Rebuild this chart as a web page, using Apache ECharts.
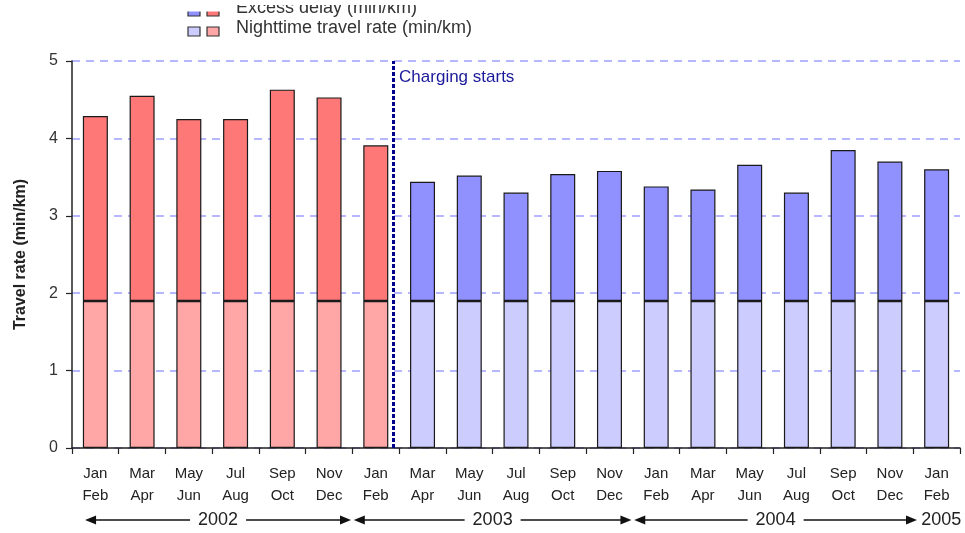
<!DOCTYPE html>
<html>
<head>
  <meta charset="utf-8">
  <script src="https://cdn.jsdelivr.net/npm/echarts@6/dist/echarts.min.js"></script>
</head>
<body style="margin: 0; background: #fff">
  <div id="container" style="width: 965px; height: 533px"></div>
  <script type="text/javascript">
    var categories = [
        'Jan\nFeb', 'Mar\nApr', 'May\nJun', 'Jul\nAug', 'Sep\nOct', 'Nov\nDec',
        'Jan\nFeb', 'Mar\nApr', 'May\nJun', 'Jul\nAug', 'Sep\nOct', 'Nov\nDec',
        'Jan\nFeb', 'Mar\nApr', 'May\nJun', 'Jul\nAug', 'Sep\nOct', 'Nov\nDec',
        'Jan\nFeb'
    ];
    var nightRate = [1.9, 1.9, 1.9, 1.9, 1.9, 1.9, 1.9, 1.9, 1.9, 1.9, 1.9, 1.9, 1.9, 1.9, 1.9, 1.9, 1.9, 1.9, 1.9];
    var excessDelay = [2.39, 2.65, 2.35, 2.35, 2.73, 2.63, 2.01, 1.54, 1.62, 1.40, 1.64, 1.68, 1.48, 1.44, 1.76, 1.40, 1.95, 1.80, 1.70];
    var chargingStartsAt = 6.87;   // position on the category scale
    var beforeCount = 7;           // bars drawn red (before charging)
    var years = ['2002', '2003', '2004', '2005'];
    var yearFrom = [0.28, 6.03, 12.03, 18.6];
    var yearTo = [5.97, 11.97, 18.08, 18.6];

    var FONT = '"Liberation Sans", Arial, sans-serif';
    var myChart = echarts.init(document.getElementById('container'));

    function barColor(before, after)
    {
        return function(p) { return p.dataIndex < beforeCount ? before : after; };
    }

    var option =
    {
        animation: false,
        grid: { left: 72, right: 5, top: 61, bottom: 85, outerBoundsMode: 'none' },
        xAxis:
        [
            {
                type: 'category',
                data: categories,
                axisLine: { lineStyle: { color: '#222', width: 1.5 } },
                axisTick: { show: true, length: 6, lineStyle: { color: '#222', width: 1.2 } },
                axisLabel: { color: '#222', fontSize: 15, lineHeight: 22, margin: 15, fontFamily: FONT, interval: 0 }
            },
            { type: 'value', min: 0, max: 19, show: false }
        ],
        yAxis:
        {
            type: 'value',
            min: 0, max: 5, interval: 1,
            name: 'Travel rate (min/km)',
            nameLocation: 'middle',
            nameGap: 43,
            nameTextStyle: { color: '#222', fontSize: 16, fontWeight: 'bold', fontFamily: FONT },
            axisLine: { show: true, lineStyle: { color: '#222', width: 1.5 } },
            axisTick: { show: true, length: 6, lineStyle: { color: '#222', width: 1.2 } },
            axisLabel: { color: '#333', fontSize: 16, margin: 14, fontFamily: FONT },
            splitLine: { lineStyle: { color: '#a0a0ff', width: 1.5, type: [8, 6] } }
        },
        series:
        [
            {
                name: 'Nighttime travel rate (min/km)',
                type: 'bar',
                stack: 'rate',
                barWidth: 25,
                data: nightRate,
                itemStyle: { color: barColor('#ffa6a6', '#ccccff'), borderColor: '#1a1a1a', borderWidth: 1.2 }
            },
            {
                name: 'Excess delay (min/km)',
                type: 'bar',
                stack: 'rate',
                barWidth: 25,
                data: excessDelay,
                itemStyle: { color: barColor('#ff7878', '#9090ff'), borderColor: '#1a1a1a', borderWidth: 1.2 }
            },
            {
                type: 'scatter',
                xAxisIndex: 1,
                data: [],
                markLine:
                {
                    silent: true,
                    symbol: 'none',
                    label: { show: false },
                    lineStyle: { color: '#00008c', width: 3, type: [4, 2] },
                    data: [{ xAxis: chargingStartsAt }]
                }
            }
        ]
    };
    myChart.setOption(option);

    function px(v) { return myChart.convertToPixel({ xAxisIndex: 1 }, v); }
    function py(v) { return myChart.convertToPixel({ yAxisIndex: 0 }, v); }

    var g = [];
    // legend (two swatches per row, top row cut off by the frame)
    var legendRows = [
        { text: 'Excess delay (min/km)', y: 7, colors: ['#9090ff', '#ff7878'] },
        { text: 'Nighttime travel rate (min/km)', y: 27, colors: ['#ccccff', '#ffa6a6'] }
    ];
    legendRows.forEach(function(r)
    {
        g.push({ type: 'rect', shape: { x: 188, y: r.y, width: 12, height: 9 },
                 style: { fill: r.colors[0], stroke: '#333', lineWidth: 1.2 } });
        g.push({ type: 'rect', shape: { x: 207, y: r.y, width: 12, height: 9 },
                 style: { fill: r.colors[1], stroke: '#333', lineWidth: 1.2 } });
        g.push({ type: 'text', x: 236, y: r.y + 1,
                 style: { text: r.text, fill: '#333', font: '18px ' + FONT, verticalAlign: 'middle' } });
    });
    // the source picture is cropped through the first legend row
    g.push({ type: 'rect', z: 100, shape: { x: 180, y: 0, width: 45, height: 11.5 }, style: { fill: '#fff' } });
    g.push({ type: 'rect', z: 100, shape: { x: 230, y: 0, width: 260, height: 5 }, style: { fill: '#fff' } });

    // charging label
    g.push({ type: 'text', x: px(chargingStartsAt) + 6, y: py(5) + 16,
             style: { text: 'Charging starts', fill: '#1a1a9a', font: '17px ' + FONT, verticalAlign: 'middle' } });

    // year arrows under the axis
    var yy = 520;
    for (var i = 0; i < years.length; i++)
    {
        var a = px(yearFrom[i]), b = px(yearTo[i]), c = (a + b) / 2;
        g.push({ type: 'text', x: c, y: yy,
                 style: { text: years[i], fill: '#222', font: '18px ' + FONT, align: 'center', verticalAlign: 'middle' } });
        if (b - a < 1) continue;
        g.push({ type: 'line', shape: { x1: a + 6, y1: yy, x2: c - 28, y2: yy }, style: { stroke: '#111', lineWidth: 1.5 } });
        g.push({ type: 'line', shape: { x1: c + 28, y1: yy, x2: b - 6, y2: yy }, style: { stroke: '#111', lineWidth: 1.5 } });
        g.push({ type: 'polygon', shape: { points: [[a, yy], [a + 11, yy - 4.5], [a + 11, yy + 4.5]] }, style: { fill: '#111' } });
        g.push({ type: 'polygon', shape: { points: [[b, yy], [b - 11, yy - 4.5], [b - 11, yy + 4.5]] }, style: { fill: '#111' } });
    }
    myChart.setOption({ graphic: g });
  </script>
</body>
</html>
